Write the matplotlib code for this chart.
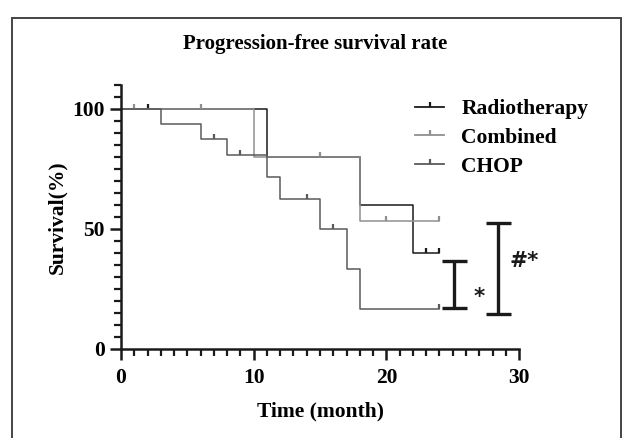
import matplotlib
matplotlib.use("Agg")
import matplotlib.pyplot as plt
from matplotlib.lines import Line2D
from matplotlib.path import Path
from matplotlib.patches import Rectangle

# Kaplan-Meier step data (time in months, survival in %)
radio_t = [0, 11, 18, 22, 24]
radio_s = [100, 80, 60, 40, 40]
radio_cens_t = [2, 23, 24]
radio_cens_s = [100, 40, 40]

comb_t = [0, 10, 18, 24]
comb_s = [100, 80, 53.3, 53.3]
comb_cens_t = [1, 6, 15, 20, 24]
comb_cens_s = [100, 100, 80, 53.3, 53.3]

chop_t = [0, 3, 6, 8, 11, 12, 15, 17, 18, 24]
chop_s = [100, 93.8, 87.5, 80.8, 71.5, 62.5, 50, 33.3, 16.7, 16.7]
chop_cens_t = [7, 9, 14, 16, 24]
chop_cens_s = [87.5, 80.8, 62.5, 50, 16.7]

# significance brackets: (x, low, high, label, label_x, label_y)
brackets = [(25.1, 17, 36.5, "*", 27.0, 21.5),
            (28.4, 14.4, 52.5, "#*", 30.4, 36.5)]

plt.rcParams["font.family"] = "Liberation Serif"
plt.rcParams["font.weight"] = "bold"

tick_mark = Path([(0, 0), (0, 1)], [Path.MOVETO, Path.LINETO])

fig = plt.figure(figsize=(6.3, 4.38), dpi=100)
ax = fig.add_axes([0.192, 0.204, 0.632, 0.602])

series = [
    ("Radiotherapy", radio_t, radio_s, radio_cens_t, radio_cens_s, "#1a1a1a"),
    ("Combined", comb_t, comb_s, comb_cens_t, comb_cens_s, "#8f8f8f"),
    ("CHOP", chop_t, chop_s, chop_cens_t, chop_cens_s, "#5a5a5a"),
]

handles = []
for name, t, s, ct, cs, col in series:
    ax.step(t, s, where="post", color=col, lw=1.1)
    ax.plot(ct, cs, ls="none", marker=tick_mark, ms=7, mew=1.6, color=col)
    handles.append(Line2D([], [], color=col, lw=1.3, marker=tick_mark,
                          ms=7, mew=1.6, label=name))

for x, lo, hi, lab, lx, ly in brackets:
    ax.errorbar([x], [(lo + hi) / 2], yerr=[(hi - lo) / 2], color="#1a1a1a",
                lw=2.4, capsize=9, capthick=2.4, clip_on=False)
    ax.text(lx, ly, lab, fontsize=15.5, family="DejaVu Sans", fontweight="bold",
            ha="center", va="center", color="#1a1a1a")

ax.set_xlim(0, 30)
ax.set_ylim(0, 110)
ax.set_xticks([0, 10, 20, 30])
ax.set_xticks(range(0, 31), minor=True)
ax.set_yticks([0, 50, 100])
ax.set_yticks(range(0, 111, 5), minor=True)
for sp in ["top", "right"]:
    ax.spines[sp].set_visible(False)
for sp in ["left", "bottom"]:
    ax.spines[sp].set_linewidth(1.8)
    ax.spines[sp].set_color("#1a1a1a")
ax.tick_params(which="major", length=8, width=1.8, labelsize=15.5, color="#1a1a1a")
ax.tick_params(axis="x", which="major", pad=6)
ax.tick_params(which="minor", length=5, width=1.6, color="#1a1a1a")

ax.set_xlabel("Time (month)", fontsize=15.5, fontweight="bold", labelpad=10)
ax.set_ylabel("Survival(%)", fontsize=15.5, fontweight="bold", labelpad=4)
fig.text(0.5, 1 - 44 / 438, "Progression-free survival rate", fontsize=15,
         fontweight="bold", ha="center", va="center")

ax.legend(handles=handles, loc="upper left", bbox_to_anchor=(0.69, 1.02),
          frameon=False, fontsize=15.5, handlelength=1.35, handletextpad=0.8,
          labelspacing=0.4)

# outer frame of the panel
fig.patches.append(Rectangle((12 / 630, -0.1), 609 / 630, 1.1 - 18 / 438,
                             transform=fig.transFigure, fill=False,
                             edgecolor="#444444", lw=1.4))

fig.savefig("out.png", dpi=100)
